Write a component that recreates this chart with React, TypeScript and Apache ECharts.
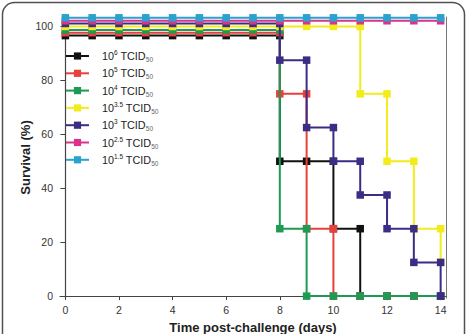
import React, { useEffect, useRef } from "react";
import * as echarts from "echarts";

const days = [0, 1, 2, 3, 4, 5, 6, 7, 8, 9, 10, 11, 12, 13, 14];
const doseExponents = ["6", "5", "4", "3.5", "3", "2.5", "1.5"];
const dose6 = [100, 100, 100, 100, 100, 100, 100, 100, 50, 50, 25, 0, 0, 0, 0];
const dose5 = [100, 100, 100, 100, 100, 100, 100, 100, 75, 25, 0, 0, 0, 0, 0];
const dose4 = [100, 100, 100, 100, 100, 100, 100, 100, 25, 0, 0, 0, 0, 0, 0];
const dose35 = [100, 100, 100, 100, 100, 100, 100, 100, 100, 100, 100, 75, 50, 25, 12.5];
const dose3 = [100, 100, 100, 100, 100, 100, 100, 100, 87.5, 62.5, 50, 37.5, 25, 12.5, 0];
const dose25 = [100, 100, 100, 100, 100, 100, 100, 100, 100, 100, 100, 100, 100, 100, 100];
const dose15 = [100, 100, 100, 100, 100, 100, 100, 100, 100, 100, 100, 100, 100, 100, 100];
const seriesValues = [dose6, dose5, dose4, dose35, dose3, dose25, dose15];
const xTicks = [0, 2, 4, 6, 8, 10, 12, 14];
const yTicks = [0, 20, 40, 60, 80, 100];

// display styles (kept out of data)
const colors = ["#111111", "#e8403a", "#1f9a55", "#f2ec1c", "#3b2d86", "#d9348b", "#2aa2cf"];
const topNudge = [-3.4, -2.3, -1.3, 0, 1.1, 2.1, 3.2];
const FONT = "'Liberation Sans', Arial, Helvetica, sans-serif";

function buildSteps(vals: number[], nudge: number) {
  const disp = (v: number) => (v === 100 ? v + nudge : v);
  const pts: number[][] = [];
  vals.forEach((v, i) => {
    if (i > 0 && v !== vals[i - 1]) pts.push([days[i], disp(vals[i - 1])]);
    pts.push([days[i], disp(v)]);
  });
  return pts;
}

export default function App() {
  const ref = useRef<HTMLDivElement>(null);
  useEffect(() => {
    if (!ref.current) return;
    const chart = echarts.init(ref.current, undefined, { renderer: "svg" });
    const names = doseExponents.map((e) => `10^${e} TCID50`);
    const series = seriesValues.map((vals, i) => ({
      name: names[i],
      type: "line",
      data: buildSteps(vals, topNudge[i]),
      symbol: "rect",
      symbolSize: 7.5,
      lineStyle: { color: colors[i], width: 2 },
      itemStyle: { color: colors[i] },
      z: 2 + i,
    }));
    chart.setOption({
      animation: false,
      backgroundColor: "#ffffff",
      textStyle: { fontFamily: FONT },
      graphic: [
        {
          type: "rect",
          shape: { x: 2.5, y: 2.5, width: 462, height: 360, r: 12 },
          style: { fill: "none", stroke: "#505050", lineWidth: 1.5 },
          silent: true,
        },
      ],
      legend: {
        orient: "vertical",
        left: 65,
        top: 49,
        padding: 0,
        itemWidth: 23,
        itemHeight: 9,
        itemGap: 3.3,
        data: names,
        formatter: (n: string) => {
          const m = n.match(/^10\^(\S+) TCID50$/);
          const e = m ? m[1] : "";
          return `{b|10}{sup|${e}}{b| TCID}{sub|50}`;
        },
        textStyle: {
          fontFamily: FONT,
          rich: {
            b: { fontSize: 10.8, color: "#222", lineHeight: 14, fontFamily: FONT, verticalAlign: "middle" },
            sup: { fontSize: 6.5, color: "#222", fontFamily: FONT, verticalAlign: "top", lineHeight: 8 },
            sub: { fontSize: 6.5, color: "#666", fontFamily: FONT, verticalAlign: "bottom", lineHeight: 8 },
          },
          padding: [0, 0, 0, 8],
        },
      },
      grid: { left: 60, right: 21, top: 17, bottom: 36, outerBoundsMode: "none", containLabel: false },
      xAxis: {
        type: "value",
        min: -0.2,
        max: 14.2,
        name: "Time post-challenge (days)",
        nameLocation: "middle",
        nameGap: 23,
        nameMoveOverlap: false,
        nameTextStyle: { fontSize: 13, fontWeight: "bold", color: "#222", fontFamily: FONT },
        axisLine: { show: true, lineStyle: { color: "#444", width: 1.2 } },
        axisTick: { show: true, length: 4, customValues: xTicks, lineStyle: { color: "#444" } },
        axisLabel: { customValues: xTicks, fontSize: 10.5, color: "#333", margin: 6, fontFamily: FONT },
        splitLine: { show: false },
      },
      yAxis: [
        {
          type: "value",
          min: -0.7,
          max: 103.5,
          name: "Survival (%)",
          nameLocation: "middle",
          nameGap: 28,
          nameMoveOverlap: false,
          nameTextStyle: { fontSize: 13, fontWeight: "bold", color: "#222", fontFamily: FONT },
          axisLine: { show: true, lineStyle: { color: "#444", width: 1.2 } },
          axisTick: { show: true, length: 5, customValues: yTicks, lineStyle: { color: "#444" } },
          axisLabel: { customValues: yTicks, fontSize: 10.5, color: "#333", margin: 7, fontFamily: FONT },
          splitLine: { show: false },
        },
        {
          type: "value",
          position: "right",
          min: -0.7,
          max: 103.5,
          axisLine: { show: true, lineStyle: { color: "#777", width: 1 } },
          axisTick: { show: false },
          axisLabel: { show: false },
          splitLine: { show: false },
        },
      ],
      series,
    });
    return () => chart.dispose();
  }, []);
  return (
    <div
      ref={ref}
      style={{ position: "fixed", left: 0, top: 0, width: 467, height: 334, background: "#fff" }}
    />
  );
}
